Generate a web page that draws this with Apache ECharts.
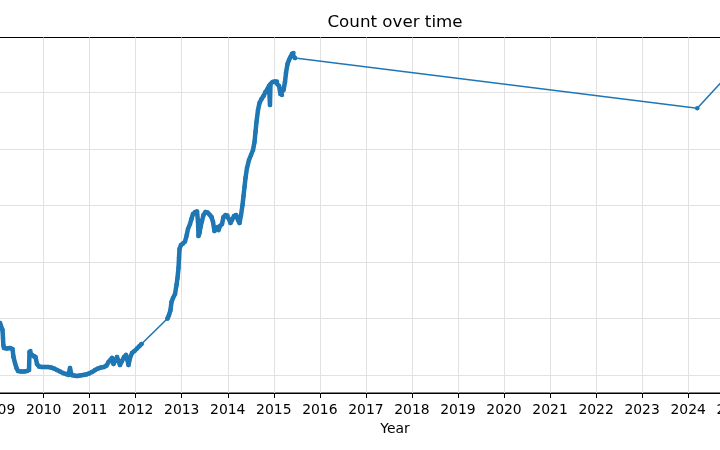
<!DOCTYPE html>
<html>
<head>
<meta charset="utf-8">
<script src="https://cdn.jsdelivr.net/npm/echarts@6/dist/echarts.min.js"></script>
<style>html,body{margin:0;padding:0;background:#fff}#c{width:720px;height:450px}</style>
</head>
<body>
<div id="c"></div>
<script>
// Decimal years of the observations
const years = [
  2009.053, 2009.075, 2009.107, 2009.118, 2009.125, 2009.140, 2009.205, 2009.270, 2009.325, 2009.346,
  2009.379, 2009.411, 2009.444, 2009.509, 2009.574, 2009.639, 2009.683, 2009.694, 2009.715, 2009.748,
  2009.791, 2009.824, 2009.857, 2009.900, 2009.965, 2010.030, 2010.096, 2010.161, 2010.226, 2010.291,
  2010.356, 2010.421, 2010.487, 2010.541, 2010.573, 2010.606, 2010.660, 2010.725, 2010.791, 2010.856,
  2010.921, 2010.986, 2011.051, 2011.116, 2011.182, 2011.247, 2011.312, 2011.366, 2011.410, 2011.453,
  2011.486, 2011.518, 2011.551, 2011.594, 2011.627, 2011.659, 2011.703, 2011.746, 2011.790, 2011.822,
  2011.844, 2011.877, 2011.920, 2011.974, 2012.029, 2012.083, 2012.126,
  2012.691, 2012.724, 2012.756, 2012.778, 2012.811, 2012.854, 2012.887, 2012.908, 2012.930, 2012.941,
  2012.952, 2012.984, 2013.028, 2013.071, 2013.104, 2013.136, 2013.180, 2013.212, 2013.245, 2013.288,
  2013.332, 2013.354, 2013.364, 2013.386, 2013.408, 2013.440, 2013.473, 2013.516, 2013.560, 2013.603,
  2013.647, 2013.679, 2013.712, 2013.745, 2013.777, 2013.799, 2013.831, 2013.875, 2013.907, 2013.951,
  2013.994, 2014.027, 2014.059, 2014.092, 2014.135, 2014.179, 2014.222, 2014.255, 2014.288, 2014.320,
  2014.342, 2014.364, 2014.385, 2014.418, 2014.461, 2014.505, 2014.548, 2014.581, 2014.602, 2014.624,
  2014.657, 2014.689, 2014.733, 2014.776, 2014.820, 2014.863, 2014.896, 2014.917, 2014.928, 2014.972,
  2015.026, 2015.069, 2015.113, 2015.145, 2015.178, 2015.211, 2015.243, 2015.265, 2015.298, 2015.330,
  2015.363, 2015.395, 2015.428, 2015.460,
  2024.198, 2024.865
];
// Count at each observation
const counts = [
  920, 867, 796, 654, 531, 477, 469, 477, 460, 318,
  212, 124, 71, 62, 62, 71, 88, 407, 424, 354,
  327, 318, 195, 150, 141, 141, 141, 133, 115, 88,
  62, 35, 18, 0, 124, 0, -9, -18, -9, 0,
  9, 27, 53, 88, 115, 133, 141, 168, 230, 265,
  301, 195, 248, 318, 248, 177, 248, 318, 354, 265,
  177, 301, 389, 424, 469, 513, 548,
  999, 1061, 1149, 1291, 1362, 1432, 1592, 1715, 1892, 2069,
  2228, 2299, 2325, 2361, 2458, 2582, 2670, 2759, 2847, 2882,
  2891, 2706, 2458, 2511, 2617, 2723, 2829, 2882, 2874, 2838,
  2794, 2706, 2546, 2600, 2617, 2564, 2635, 2670, 2794, 2829,
  2821, 2759, 2688, 2741, 2812, 2829, 2741, 2688, 2829, 3006,
  3165, 3325, 3484, 3661, 3802, 3890, 3979, 4120, 4297, 4474,
  4686, 4810, 4881, 4934, 5005, 5058, 5111, 4775, 5146, 5181,
  5190, 5190, 5111, 4969, 4952, 5040, 5181, 5341, 5500, 5570,
  5624, 5677, 5694, 5606,
  4716, 5305
];
const titleText = 'Count over time';
const xName = 'Year';

const data = years.map((y, i) => [y, counts[i]]);
// same observations, but broken where consecutive samples are far apart (dense marker band only)
const band = [];
years.forEach((y, i) => {
  if (i > 0 && y - years[i - 1] > 0.3) band.push([null, null]);
  band.push([y, counts[i]]);
});
const FONT = 'DejaVu Sans';
const BLUE = '#1f77b4';

const chart = echarts.init(document.getElementById('c'), null, {renderer: 'canvas'});
chart.setOption({
  animation: false,
  backgroundColor: '#fff',
  title: {
    text: titleText, left: 395, top: 14, textAlign: 'center', padding: 0,
    textStyle: {fontFamily: FONT, fontSize: 16.7, fontWeight: 'normal', color: '#000'}
  },
  grid: {
    left: -48.48, right: -118.48, top: 37.5, bottom: 57,
    containLabel: false, outerBoundsMode: 'none',
    show: true, borderColor: '#000', borderWidth: 1, backgroundColor: 'transparent'
  },
  xAxis: {
    type: 'value', min: 2008, max: 2027.265, interval: 1,
    name: xName, nameLocation: 'middle', nameGap: 27,
    nameTextStyle: {fontFamily: FONT, fontSize: 13.9, color: '#000'},
    axisLine: {onZero: false, lineStyle: {color: '#000', width: 1}},
    axisTick: {length: 5, lineStyle: {color: '#000', width: 1}},
    axisLabel: {
      margin: 10, fontFamily: FONT, fontSize: 13.9, color: '#000',
      formatter: v => (Math.abs(v - Math.round(v)) < 1e-6 ? String(Math.round(v)) : '')
    },
    splitLine: {show: true, showMinLine: false, showMaxLine: false, lineStyle: {color: '#e2e2e2', width: 1}}
  },
  yAxis: {
    type: 'value', min: -318, max: 5968,
    axisLine: {show: false}, axisTick: {show: false}, axisLabel: {show: false},
    splitLine: {show: true, showMinLine: false, showMaxLine: false, lineStyle: {color: '#e2e2e2', width: 1}}
  },
  series: [{
    type: 'line', data: band, connectNulls: false,
    showSymbol: false, silent: true,
    lineStyle: {color: BLUE, width: 4.5, cap: 'round', join: 'round'},
    emphasis: {disabled: true}
  }, {
    type: 'line', data: data,
    symbol: 'circle', symbolSize: 4.5, showSymbol: true, showAllSymbol: true,
    lineStyle: {color: BLUE, width: 1.6},
    itemStyle: {color: BLUE, borderWidth: 0},
    emphasis: {disabled: true}
  }]
});
</script>
</body>
</html>
